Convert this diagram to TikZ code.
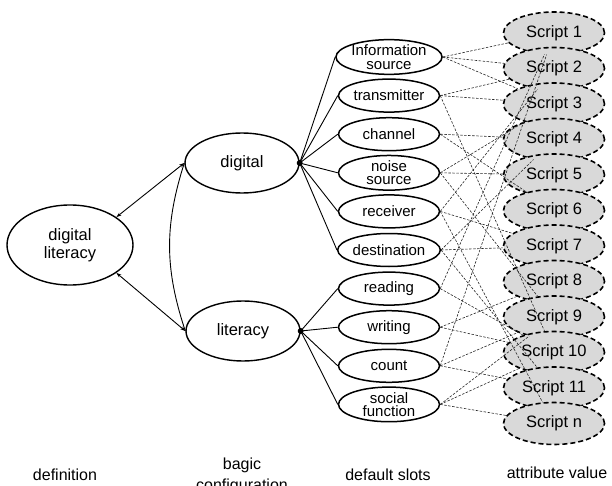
\documentclass[tikz,border=0pt]{standalone}
\usepackage{fontspec}
\setmainfont{Liberation Sans}
\usetikzlibrary{shapes.geometric,arrows.meta}
\definecolor{scriptfill}{RGB}{217,217,217}
\begin{document}
\begin{tikzpicture}[x=1pt,y=-1pt,
  concept/.style={ellipse,draw,line width=1.4pt,inner sep=0pt,align=center,
    font=\fontsize{16.5}{20}\selectfont},
  slot/.style={ellipse,draw,line width=1.5pt,minimum width=101pt,minimum height=33pt,
    inner sep=0pt,align=center,font=\fontsize{15}{13.5}\selectfont},
  script/.style={ellipse,draw,line width=1.6pt,dash pattern=on 5pt off 3pt,
    fill=scriptfill,minimum width=101pt,minimum height=42pt,inner sep=0pt,
    font=\fontsize{16.5}{18}\selectfont},
  link/.style={line width=0.9pt},
  rel/.style={line width=0.9pt,{Stealth[length=5pt,width=3.5pt]}-{Stealth[length=5pt,width=3.5pt]}},
  valuelink/.style={line width=0.6pt,dash pattern=on 2.5pt off 1.5pt,black!85},
  caption/.style={align=center,font=\fontsize{16}{21}\selectfont}]
\useasboundingbox (0,0) rectangle (612,486);

% definition and basic configuration
\node[concept,minimum width=126pt,minimum height=80pt] (dl) at (70,245) {digital\\[-2pt]literacy};
\node[concept,minimum width=114pt,minimum height=60pt] (dg) at (242,163) {digital};
\node[concept,minimum width=114pt,minimum height=60pt] (lt) at (243,331) {literacy};

\draw[rel] (dl.31) -- (dg.west);
\draw[rel] (dl.-31) -- (lt.west);
\draw[link] (dg.west) to[bend right=18] (lt.west);

% default slots
\foreach \i/\t in {1/{Information\\source},2/transmitter,3/channel,4/{noise\\source},
  5/receiver,6/destination,7/reading,8/writing,9/count,10/{social\\function}}
  \node[slot] (s\i) at (389,{57+38.6*(\i-1)}) {\t};

% attribute values
\foreach \i/\t in {1/Script 1,2/Script 2,3/Script 3,4/Script 4,5/Script 5,6/Script 6,
  7/Script 7,8/Script 8,9/Script 9,10/Script 10,11/Script 11,12/Script n}
  \node[script] (a\i) at (554,{33+35.5*(\i-1)}) {\t};

% fan from the configuration nodes to their slots
\foreach \i in {1,...,6} \draw[link] (dg.east) -- (s\i.west);
\foreach \i in {7,...,10} \draw[link] (lt.east) -- (s\i.west);
\fill (dg.east) circle (3);
\fill (lt.east) circle (3);

% slots to attribute values
\foreach \s/\a in {1/1,1/2,1/3, 2/2,2/3,2/10, 3/4,3/6, 4/3,4/5,4/9,
  5/2,5/7,5/12, 6/4,6/7,6/11, 7/1,7/10, 8/8,8/10, 9/1,9/9,9/11,
  10/9,10/10,10/12}
  \draw[valuelink] (s\s.east) -- (a\a);

% column captions
\node[caption] (c1) at (65,475) {definition};
\node[caption] (c2) at (242,476) {bagic\\configuration};
\node[caption] (c3) at (388,475) {default slots};
\node[caption] (c4) at (557,473) {attribute value};
\end{tikzpicture}
\end{document}
